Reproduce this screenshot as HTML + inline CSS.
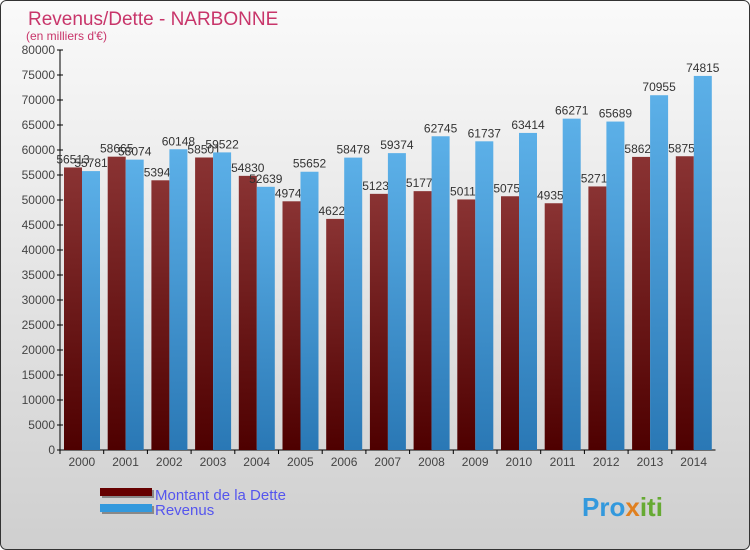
<!DOCTYPE html>
<html><head><meta charset="utf-8"><style>
body{margin:0;width:750px;height:550px;overflow:hidden}
svg{display:block;font-family:"Liberation Sans",sans-serif}
</style></head><body>
<svg id="c" width="750" height="550">
<defs>
<linearGradient id="bg" x1="0" y1="0" x2="0" y2="1"><stop offset="0" stop-color="#fafafa"/><stop offset="1" stop-color="#cfcfcf"/></linearGradient>
<linearGradient id="gd" x1="0" y1="0" x2="0" y2="1"><stop offset="0" stop-color="#8a3333"/><stop offset="1" stop-color="#4e0000"/></linearGradient>
<linearGradient id="gb" x1="0" y1="0" x2="0" y2="1"><stop offset="0" stop-color="#5cb0e8"/><stop offset="1" stop-color="#2a78b5"/></linearGradient>
</defs>
<rect x="0.5" y="0.5" width="749" height="549" rx="6" fill="url(#bg)" stroke="#333"/>
<text x="28" y="25" font-size="19" fill="#c8356a">Revenus/Dette - NARBONNE</text>
<text x="26" y="40" font-size="12" fill="#c8356a">(en milliers d'€)</text>
<g id="plot"></g>
<g>
<rect x="102" y="490" width="52" height="8" fill="#888"/><rect x="100" y="488" width="52" height="8" fill="#660000"/>
<rect x="102" y="506" width="52" height="8" fill="#888"/><rect x="100" y="504" width="52" height="8" fill="#3399dd"/>
<text x="155" y="500" font-size="15" fill="#5555ee">Montant de la Dette</text>
<text x="155" y="515" font-size="15" fill="#5555ee">Revenus</text>
</g>
<text x="582" y="516" font-size="26" font-weight="bold" fill="#3399dd">Pro<tspan fill="#e08020">x</tspan><tspan fill="#66aa33">iti</tspan></text>
</svg>
<script>
const years=["2000","2001","2002","2003","2004","2005","2006","2007","2008","2009","2010","2011","2012","2013","2014"];
const dette=[56513,58665,53940,58501,54830,49740,46220,51230,51770,50110,50750,49350,52710,58620,58750];
const revenus=[55781,58074,60148,59522,52639,55652,58478,59374,62745,61737,63414,66271,65689,70955,74815];
const yTicks=[0,5000,10000,15000,20000,25000,30000,35000,40000,45000,50000,55000,60000,65000,70000,75000,80000];
const NS="http://www.w3.org/2000/svg",g=document.getElementById('plot');
const x0=60,cw=43.7,y0=450,yMax=80000,ph=400;
const y=v=>y0-v/yMax*ph;
const xc=i=>x0+i*cw;
function el(t,a,txt){const e=document.createElementNS(NS,t);for(const k in a)e.setAttribute(k,a[k]);if(txt!=null)e.textContent=txt;g.appendChild(e);return e;}
yTicks.forEach(v=>{
const t=el('text',{x:55,y:y(v)+4,'font-size':12,'text-anchor':'end',fill:'#444'},v);


el('line',{x1:57,x2:63,y1:y(v),y2:y(v),stroke:'#000'});
});
el('line',{x1:x0,x2:x0,y1:y(yMax),y2:y0,stroke:'#000'});
el('line',{x1:x0,x2:x0+years.length*cw,y1:y0,y2:y0,stroke:'#000'});
years.forEach((yr,i)=>{
const t=el('text',{x:xc(i)+cw/2,y:y0+16,'font-size':12,'text-anchor':'middle',fill:'#444'},yr);


el('line',{x1:xc(i),x2:xc(i),y1:y0,y2:y0+4,stroke:'#000'});
});
years.forEach((yr,i)=>{
const b=el('rect',{x:xc(i)+4,y:y(dette[i]),width:18,height:y0-y(dette[i]),fill:'url(#gd)'});


const t=el('text',{x:xc(i)+13,y:y(dette[i])-4,'font-size':12,'text-anchor':'middle',fill:'#333'},dette[i]);


});
years.forEach((yr,i)=>{
const b=el('rect',{x:xc(i)+22,y:y(revenus[i]),width:18,height:y0-y(revenus[i]),fill:'url(#gb)'});


const t=el('text',{x:xc(i)+31,y:y(revenus[i])-4,'font-size':12,'text-anchor':'middle',fill:'#333'},revenus[i]);


});
</script>
</body></html>
